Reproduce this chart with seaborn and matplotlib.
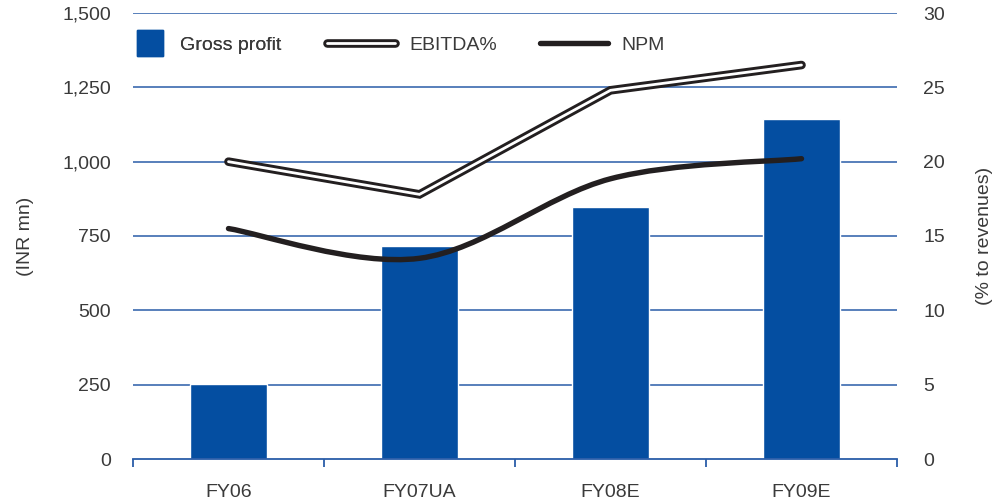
import matplotlib
matplotlib.use("Agg")
import matplotlib.pyplot as plt
import matplotlib.patheffects as pe
import seaborn as sns
import numpy as np
import pandas as pd
from matplotlib.path import Path
from matplotlib.patches import PathPatch
from matplotlib.lines import Line2D

# ---- data ----
categories = ["FY06", "FY07UA", "FY08E", "FY09E"]
gross_profit = [252, 716, 848, 1144]
ebitda_pct = [20.0, 17.8, 24.8, 26.5]
npm = [15.5, 13.5, 18.85, 20.2]
left_ticks = [0, 250, 500, 750, 1000, 1250, 1500]
right_ticks = [0, 5, 10, 15, 20, 25, 30]

BAR = "#044EA1"
GRID = "#2A5DA8"
TXT = "#3a3a3a"
LINE = "#231F20"

sns.set_theme(style="white")
plt.rcParams["font.family"] = ["Liberation Sans", "DejaVu Sans"]
FS = 14

fig = plt.figure(figsize=(10.03, 5.04), dpi=100)
ax = fig.add_axes([133 / 1003, 45 / 504, 764 / 1003, 446 / 504])

df = pd.DataFrame({"cat": categories, "gp": gross_profit})
sns.barplot(data=df, x="cat", y="gp", color=BAR, width=0.4, ax=ax,
            saturation=1, zorder=3)
ax.set_xlim(-0.5, 3.5)
ax.set_ylim(0, 1500)
ax.set_yticks(left_ticks)
ax.set_yticklabels([f"{v:,}" for v in left_ticks], fontsize=FS, color=TXT)
ax.tick_params(axis="y", length=0, pad=16)
ax.set_xlabel("")
ax.set_ylabel("(INR mn)", fontsize=FS, color=TXT, labelpad=20)
for v in left_ticks[1:]:
    ax.axhline(v, color=GRID, lw=1.1, zorder=1)
for s in ["top", "left", "right"]:
    ax.spines[s].set_visible(False)
ax.spines["bottom"].set_color(GRID)
ax.spines["bottom"].set_linewidth(1.3)
ax.spines["bottom"].set_zorder(4)
ax.set_xticks(range(len(categories)))
ax.set_xticklabels(categories, fontsize=FS, color=TXT)
ax.tick_params(axis="x", which="major", length=0, pad=18)
ax.set_xticks([-0.5, 0.5, 1.5, 2.5, 3.5], minor=True)
ax.tick_params(axis="x", which="minor", bottom=True, length=6, width=1.3,
               color=GRID, direction="out")

ax2 = ax.twinx()
ax2.set_ylim(0, 30)
ax2.set_yticks(right_ticks)
ax2.set_yticklabels([str(v) for v in right_ticks], fontsize=FS, color=TXT)
ax2.tick_params(axis="y", length=0, pad=19)
ax2.set_ylabel("(% to revenues)", fontsize=FS, color=TXT, labelpad=22)
for s in ["top", "left", "right", "bottom"]:
    ax2.spines[s].set_visible(False)

xs = np.arange(len(categories))
double = [pe.Stroke(linewidth=6.2, foreground=LINE), pe.Normal()]
# EBITDA double line
sns.lineplot(x=xs, y=ebitda_pct, ax=ax2, color="white", linewidth=2.0,
             solid_capstyle="round", solid_joinstyle="miter", zorder=6,
             path_effects=double)

# NPM smooth curve (Catmull-Rom -> cubic Bezier) through the data points
pts = np.column_stack([xs, npm]).astype(float)
ext = np.vstack([pts[0], pts, pts[-1]])
verts = [tuple(pts[0])]
codes = [Path.MOVETO]
for i in range(len(pts) - 1):
    p0, p1, p2, p3 = ext[i], ext[i + 1], ext[i + 2], ext[i + 3]
    c1 = p1 + (p2 - p0) / 6
    c2 = p2 - (p3 - p1) / 6
    verts += [tuple(c1), tuple(c2), tuple(p2)]
    codes += [Path.CURVE4] * 3
patch = PathPatch(Path(verts, codes), facecolor="none", edgecolor=LINE,
                  lw=3.9, capstyle="round", zorder=5)
ax2.add_patch(patch)

# legends
h_gp = Line2D([], [], marker="s", markersize=19, color=BAR, linestyle="none")
leg1 = fig.legend([h_gp], ["Gross profit"], loc="center left",
                  bbox_to_anchor=(136 / 1003, 1 - 45 / 504),
                  frameon=False, fontsize=FS, handlelength=1.39,
                  handletextpad=0.87, borderpad=0, borderaxespad=0,
                  labelcolor=TXT)
h_eb = Line2D([], [], color="white", lw=2.0, solid_capstyle="round",
              path_effects=double)
h_npm = Line2D([], [], color=LINE, lw=3.9, solid_capstyle="round")
leg2 = fig.legend([h_eb, h_npm], ["EBITDA%", "NPM"], loc="center left",
                  bbox_to_anchor=(327 / 1003, 1 - 45 / 504),
                  frameon=False, fontsize=FS, ncol=2, handlelength=3.5,
                  handletextpad=0.72, columnspacing=2.2, borderpad=0,
                  borderaxespad=0, labelcolor=TXT)
fig.add_artist(leg1)

fig.savefig("out.png", dpi=100, facecolor="white")
